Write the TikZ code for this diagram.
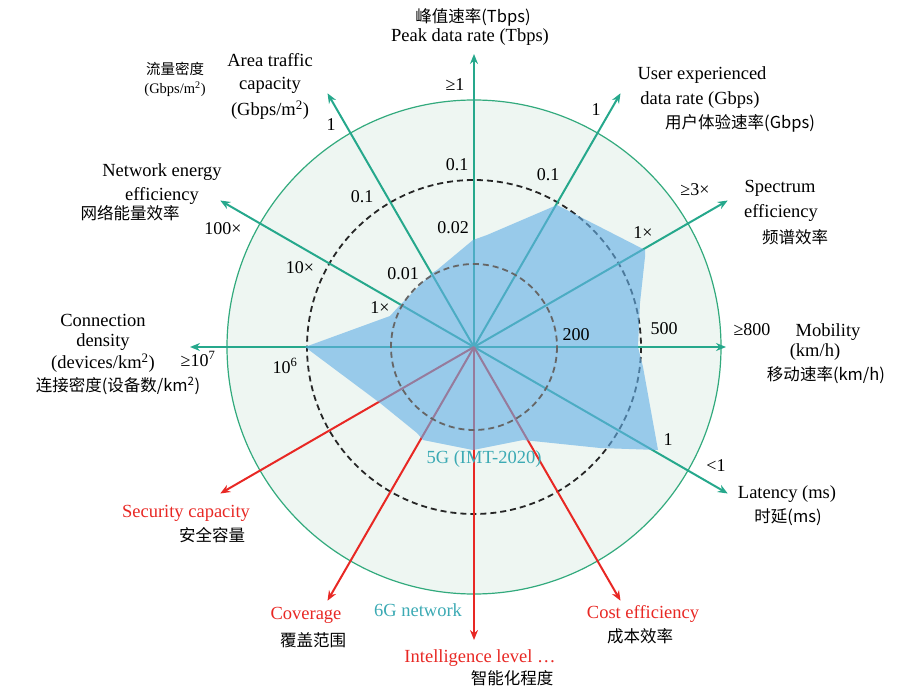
\documentclass[tikz,border=0pt]{standalone}
\usepackage{fontspec}
\setmainfont{Liberation Serif}
\newfontfamily\cjk{Noto Sans CJK SC}
\usetikzlibrary{arrows.meta,calc}
\definecolor{tealax}{RGB}{38,168,140}
\definecolor{ringg}{RGB}{50,170,125}
\definecolor{discf}{RGB}{238,246,242}
\definecolor{polyb}{RGB}{100,175,230}
\definecolor{redax}{RGB}{232,40,36}
\definecolor{lbl5g}{RGB}{60,170,180}
\tikzset{
  axg/.style={tealax,line width=2pt,-{Stealth[length=10pt,width=8pt]}},
  axr/.style={redax,line width=2pt,-{Stealth[length=10pt,width=8pt]}},
  lab/.style={font=\fontsize{18.5}{21}\selectfont,align=center,inner sep=0pt},
  cj/.style={font=\fontsize{16.5}{19}\selectfont\cjk,inner sep=0pt},
  num/.style={font=\fontsize{18}{20}\selectfont,inner sep=0pt},
}
\begin{document}
\begin{tikzpicture}[x=1pt,y=-1pt]
\useasboundingbox (0,0) rectangle (912,692);
\coordinate (O) at (474,347);
\fill[discf] (O) circle (247);
\draw[ringg,line width=1.2pt] (O) circle (247);
\draw[black!85,dashed,line width=1.8pt,dash pattern=on 6pt off 4pt] (O) circle (167);
% axes
\foreach \n/\a in {pk/90,ue/60,se/30,la/-30,ce/-60,ar/120,ne/150,il/-90,cv/-120,sc/-150}{
  \coordinate (\n) at ($(O)+(\a:293pt)$);
}
\coordinate (mo) at ($(O)+(0:252pt)$);
\coordinate (cd) at ($(O)+(180:284pt)$);
\draw[axg] (O) -- (pk);
\draw[axg] (O) -- (ue);
\draw[axg] (O) -- (se);
\draw[axg] (O) -- (mo);
\draw[axg] (O) -- (la);
\draw[axg] (O) -- (ar);
\draw[axg] (O) -- (ne);
\draw[axg] (O) -- (cd);
\draw[axr] (O) -- (ce);
\draw[axr] (O) -- (il);
\draw[axr] (O) -- (cv);
\draw[axr] (O) -- (sc);
% 5G polygon
\fill[polyb,fill opacity=0.62] (473,240) -- (487,235) -- (557,205) -- (645,250) -- (645,257) -- (640,303) -- (638,347) -- (643,367) -- (658,450) -- (600,448) -- (523,440) -- (473,450) -- (423,440) -- (417,433) -- (380,403) -- (305,347) -- (390,316) -- (400,305) -- (432,273) -- (437,270) -- cycle;
\draw[black!60,dashed,line width=1.8pt,dash pattern=on 6pt off 4pt] (O) circle (83);
% labels
\node[cj] at (473,17) {峰值速率(Tbps)};
\node[lab] at (470,37) {Peak data rate (Tbps)};
\node[num] at (455,85) {≥1};
\node[num] at (457,165) {0.1};
\node[num] at (453,228) {0.02};
\node[lab] at (702,75) {User experienced};
\node[lab] at (700,100) {data rate (Gbps)};
\node[cj] at (740,123) {用户体验速率(Gbps)};
\node[num] at (596,110) {1};
\node[num] at (548,175) {0.1};
\node[num] at (695,190) {≥3×};
\node[lab] at (780,188) {Spectrum};
\node[lab] at (781,213) {efficiency};
\node[cj] at (795,237) {频谱效率};
\node[num] at (643,233) {1×};
\node[lab] at (828,332) {Mobility};
\node[lab] at (815,352) {(km/h)};
\node[cj] at (826,375) {移动速率(km/h)};
\node[num] at (752,330) {≥800};
\node[num] at (664,329) {500};
\node[num] at (576,335) {200};
\node[num] at (668,440) {1};
\node[num] at (716,466) {<1};
\node[lab] at (787,494) {Latency (ms)};
\node[cj] at (788,517) {时延(ms)};
\node[lab,redax] at (643,614) {Cost efficiency};
\node[cj] at (640,636) {成本效率};
\node[lab,redax] at (480,658) {Intelligence level …};
\node[cj] at (512,678) {智能化程度};
\node[lab,lbl5g] at (418,610) {6G network};
\node[lab,redax] at (306,615) {Coverage};
\node[cj] at (313,640) {覆盖范围};
\node[lab,redax] at (186,513) {Security capacity};
\node[cj] at (212,535) {安全容量};
\node[lab,lbl5g] at (484,459) {5G (IMT-2020)};
\node[lab] at (103,320) {Connection};
\node[lab] at (103,342) {density};
\node[lab] at (103,363) {(devices/km\textsuperscript{2})};
\node[cj] at (118,386) {连接密度(设备数/km\textsuperscript{2})};
\node[num] at (198,359) {≥10\textsuperscript{7}};
\node[num] at (285,366) {10\textsuperscript{6}};
\node[lab] at (162,172) {Network energy};
\node[lab] at (162,196) {efficiency};
\node[cj] at (130,213) {网络能量效率};
\node[num] at (223,229) {100×};
\node[num] at (300,268) {10×};
\node[num] at (380,308) {1×};
\node[cj,font=\fontsize{14.5}{16}\selectfont\cjk] at (175,69) {流量密度};
\node[lab,font=\fontsize{14.5}{16}\selectfont] at (175,89) {(Gbps/m\textsuperscript{2})};
\node[lab] at (270,60) {Area traffic};
\node[lab] at (270,85) {capacity};
\node[lab] at (270,110) {(Gbps/m\textsuperscript{2})};
\node[num] at (331,125) {1};
\node[num] at (362,197) {0.1};
\node[num] at (403,274) {0.01};
\end{tikzpicture}
\end{document}
